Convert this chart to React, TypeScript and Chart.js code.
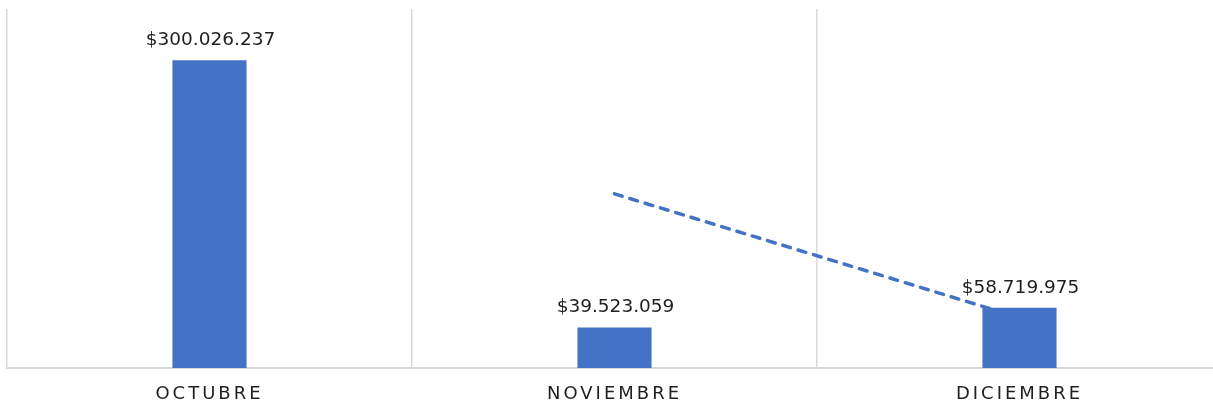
import React, { useEffect, useRef } from "react";
import { Chart, registerables } from "chart.js";

Chart.register(...registerables);

const categories = ["OCTUBRE", "NOVIEMBRE", "DICIEMBRE"];
const salesValues = [300026237, 39523059, 58719975];
const trendValues = [null, 169774648, 49121517];
const valueLabels = ["$300.026.237", "$39.523.059", "$58.719.975"];
const yMax = 350000000;

const BLUE = "#4472C4";
const GRID = "#d9d9d9";
const FONT = "'DejaVu Sans', Verdana, sans-serif";

const spacingPlugin = {
  id: "spacing",
  beforeDraw(chart: any) {
    (chart.ctx as any).letterSpacing = "3px";
  },
  beforeDatasetsDraw(chart: any) {
    (chart.ctx as any).letterSpacing = "0px";
  },
};

const labelPlugin = {
  id: "valueLabels",
  afterDatasetsDraw(chart: any) {
    const ctx = chart.ctx;
    const meta = chart.getDatasetMeta(0);
    ctx.save();
    (ctx as any).letterSpacing = "0px";
    ctx.font = `18.5px ${FONT}`;
    ctx.fillStyle = "#1f1f1f";
    ctx.textAlign = "center";
    ctx.textBaseline = "alphabetic";
    meta.data.forEach((bar: any, i: number) => {
      ctx.fillText(valueLabels[i], bar.x + 1, bar.y - 15);
    });
    ctx.restore();
  },
};

export default function App() {
  const ref = useRef<HTMLCanvasElement>(null);
  useEffect(() => {
    if (!ref.current) return;
    const chart = new Chart(ref.current, {
      type: "bar",
      data: {
        labels: categories,
        datasets: [
          {
            type: "bar",
            data: salesValues,
            backgroundColor: BLUE,
            categoryPercentage: 1,
            barPercentage: 0.183,
            order: 1,
          } as any,
          {
            type: "line",
            data: trendValues,
            borderColor: BLUE,
            borderWidth: 3.5,
            borderDash: [8, 8],
            borderCapStyle: "round",
            pointRadius: 0,
            fill: false,
            spanGaps: false,
            order: 2,
          } as any,
        ],
      },
      options: {
        responsive: false,
        animation: false,
        layout: { padding: { left: 7, top: 9, right: 2, bottom: 0 } },
        plugins: {
          legend: { display: false },
          tooltip: { enabled: false },
        },
        scales: {
          x: {
            grid: {
              display: true,
              color: GRID,
              lineWidth: 1.5,
              drawTicks: false,
              offset: true,
            },
            border: { display: true, color: GRID, width: 2 },
            ticks: {
              color: "#1f1f1f",
              font: { family: FONT, size: 18 },
              padding: 16,
              maxRotation: 0,
            },
            afterFit: (scale: any) => {
              scale.height = 38;
            },
          },
          y: {
            display: false,
            min: 0,
            max: yMax,
          },
        },
      },
      plugins: [spacingPlugin, labelPlugin],
    });
    return () => chart.destroy();
  }, []);
  return (
    <div
      style={{
        position: "fixed",
        left: 0,
        top: 0,
        width: 1213,
        height: 406,
        overflow: "hidden",
        background: "#fff",
      }}
    >
      <canvas ref={ref} width={1224} height={406} style={{ display: "block" }} />
    </div>
  );
}
